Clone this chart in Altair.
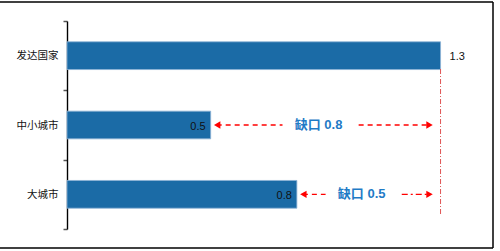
import altair as alt
import pandas as pd

# Per-capita level by group; the gaps are measured against 发达国家
categories = ["发达国家", "中小城市", "大城市"]
values = [1.3, 0.5, 0.8]
benchmark = "发达国家"
gap_rows = ["中小城市", "大城市"]
gap_right_style = ["dash", "dashdot"]

BAR = "#1B6BA6"
RED = "#FF0000"
BLUE = "#1F7BC6"
CJK = "Noto Sans CJK SC"
LATIN = "Liberation Sans"

lookup = dict(zip(categories, values))
target = lookup[benchmark]

bars_df = pd.DataFrame({"cat": categories, "value": values})

gaps = pd.DataFrame({"cat": gap_rows, "start": [lookup[c] for c in gap_rows]})
gaps["end"] = target
gaps["gap"] = (gaps["end"] - gaps["start"]).round(1)
gaps["mid"] = (gaps["start"] + gaps["end"]) / 2
gaps["label"] = "缺口 " + gaps["gap"].map(lambda g: f"{g:.1f}")

# dashed arrow shafts, split around the label
left = pd.DataFrame({"cat": gaps["cat"], "x": gaps["start"], "x2": gaps["mid"] - 0.15,
                     "style": "dash", "side": "left"})
right = pd.DataFrame({"cat": gaps["cat"], "x": gaps["mid"] + 0.115, "x2": gaps["end"],
                      "style": gap_right_style, "side": "right"})
shafts = pd.concat([left, right], ignore_index=True)

x_scale = alt.Scale(domain=[0, 1.5], nice=False, zero=True)
# full-height bands so the ticks fall on the band boundaries
y_scale = alt.Scale(domain=categories, paddingInner=0, paddingOuter=0)
y_axis = alt.Axis(
    title=None, grid=False,
    domainColor="black", domainWidth=1.4,
    tickColor="#555555", tickWidth=1.5, tickSize=4, tickBand="extent",
    labelFont=CJK, labelFontSize=10.5, labelColor="#111111", labelPadding=5,
)
Y = alt.Y("cat:N", scale=y_scale, axis=y_axis, sort=categories)
X_AXIS = None
DASHES = alt.Scale(domain=["dash", "dashdot"], range=[[5, 4], [6, 3, 2, 3]])

bars = alt.Chart(bars_df).mark_bar(
    color=BAR, stroke="#8DB3D6", strokeWidth=0.8, height=alt.RelativeBandSize(0.4)
).encode(
    x=alt.X("value:Q", scale=x_scale, axis=X_AXIS),
    y=Y,
)

outside = alt.Chart(bars_df[bars_df["cat"] == benchmark]).mark_text(
    align="left", dx=9, dy=1, font=LATIN, fontSize=11, color="#111111"
).encode(x=alt.X("value:Q", scale=x_scale, axis=X_AXIS), y=Y, text=alt.Text("value:Q", format=".1f"))

inside = alt.Chart(bars_df[bars_df["cat"] != benchmark]).mark_text(
    align="right", dx=-5, dy=2, font=LATIN, fontSize=11, color="#111111"
).encode(x=alt.X("value:Q", scale=x_scale, axis=X_AXIS), y=Y, text=alt.Text("value:Q", format=".1f"))

left_shafts = alt.Chart(shafts[shafts["side"] == "left"]).mark_rule(
    color=RED, strokeWidth=1.3, xOffset=6
).encode(
    x=alt.X("x:Q", scale=x_scale, axis=X_AXIS), x2="x2:Q", y=Y,
    strokeDash=alt.StrokeDash("style:N", scale=DASHES, legend=None),
)
right_shafts = alt.Chart(shafts[shafts["side"] == "right"]).mark_rule(
    color=RED, strokeWidth=1.3, x2Offset=-10
).encode(
    x=alt.X("x:Q", scale=x_scale, axis=X_AXIS), x2="x2:Q", y=Y,
    strokeDash=alt.StrokeDash("style:N", scale=DASHES, legend=None),
)

head_left = alt.Chart(gaps).mark_point(
    shape="triangle-left", filled=True, size=55, color=RED, opacity=1, xOffset=6.5
).encode(x=alt.X("start:Q", scale=x_scale, axis=X_AXIS), y=Y)
head_right = alt.Chart(gaps).mark_point(
    shape="triangle-right", filled=True, size=55, color=RED, opacity=1, xOffset=-11
).encode(x=alt.X("end:Q", scale=x_scale, axis=X_AXIS), y=Y)

gap_text = alt.Chart(gaps).mark_text(
    font=f"{LATIN}, {CJK}", fontSize=13, fontWeight="bold", color=BLUE, dx=-7
).encode(x=alt.X("mid:Q", scale=x_scale, axis=X_AXIS), y=Y, text="label:N")

# benchmark guide line dropping from the 发达国家 bar
guide = alt.Chart(pd.DataFrame({"x": [target]})).mark_rule(
    color="#E05555", strokeWidth=1, strokeDash=[5, 2, 1, 2]
).encode(x=alt.X("x:Q", scale=x_scale, axis=X_AXIS), y=alt.value(48), y2=alt.value(193))

# outer frame: top, right and bottom edges
one = pd.DataFrame({"a": [0]})
frame_top = alt.Chart(one).mark_rule(color="black", strokeWidth=1.5).encode(
    x=alt.value(-67), x2=alt.value(426), y=alt.value(-19))
frame_bottom = alt.Chart(one).mark_rule(color="black", strokeWidth=1.5).encode(
    x=alt.value(-67), x2=alt.value(426), y=alt.value(227))
frame_right = alt.Chart(one).mark_rule(color="black", strokeWidth=1.5).encode(
    x=alt.value(426), y=alt.value(-19), y2=alt.value(227))

chart = alt.layer(
    frame_top, frame_bottom, frame_right, bars, guide, left_shafts, right_shafts,
    head_left, head_right, gap_text, outside, inside,
).properties(
    width=431, height=208,
    padding={"left": 67, "top": 21, "right": 2, "bottom": 22},
    autosize=alt.AutoSizeParams(type="none"),
).configure(background="white").configure_view(stroke=None)

chart.save("out.html", embed_options={"renderer": "svg", "actions": False})
